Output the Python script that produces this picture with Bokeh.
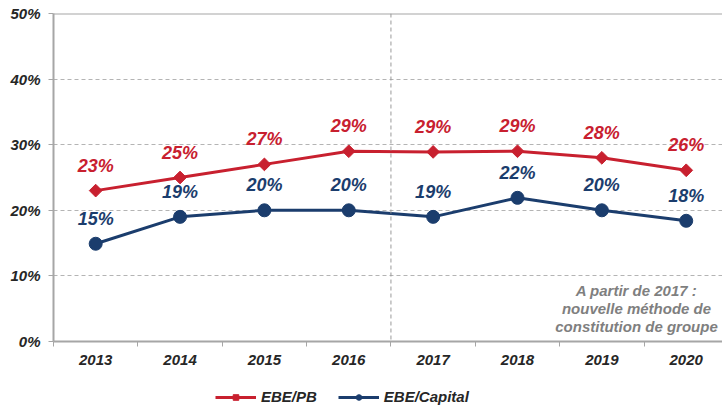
import math
from bokeh.plotting import figure
from bokeh.layouts import column
from bokeh.models import (Range1d, FixedTicker, Span, Label, Legend, LegendItem,
                          ColumnDataSource)
from bokeh.core.properties import value
from bokeh.embed import file_html
from bokeh.resources import INLINE

years = ["2013", "2014", "2015", "2016", "2017", "2018", "2019", "2020"]
ebe_pb = [23.0, 25.0, 27.0, 29.0, 28.9, 29.0, 28.0, 26.1]
ebe_cap = [14.9, 19.0, 20.0, 20.0, 19.0, 21.9, 20.0, 18.4]
pb_labels = ["23%", "25%", "27%", "29%", "29%", "29%", "28%", "26%"]
cap_labels = ["15%", "19%", "20%", "20%", "19%", "22%", "20%", "18%"]
y_ticks = [0, 10, 20, 30, 40, 50]
note_lines = ["A partir de 2017 :", "nouvelle méthode de", "constitution de groupe"]
series_names = ["EBE/PB", "EBE/Capital"]

RED = "#C8202F"
BLUE = "#1B3D6D"
GRAY = "#A6A6A6"
TXT = "#262626"
FONT = "Liberation Sans"

xs = list(range(len(years)))

p = figure(frame_width=669, frame_height=328, output_backend="svg", toolbar_location=None,
           x_range=Range1d(-0.5, 7.43), y_range=Range1d(0, 50),
           min_border_left=53, min_border_right=0, min_border_top=13,
           min_border_bottom=0)
p.outline_line_color = None
p.background_fill_color = "white"
p.border_fill_color = "white"

# x axis
p.xaxis.ticker = FixedTicker(ticks=xs, minor_ticks=[i - 0.5 for i in range(len(years) + 1)])
p.xaxis.major_label_overrides = {i: y for i, y in enumerate(years)}
p.xaxis.major_tick_out = 0
p.xaxis.major_tick_in = 0
p.xaxis.minor_tick_out = 5
p.xaxis.minor_tick_in = 0
p.xaxis.minor_tick_line_color = GRAY
p.xaxis.axis_line_color = GRAY
p.xaxis.axis_line_width = 2
p.xaxis.major_label_text_font = FONT
p.xaxis.major_label_text_font_style = "bold italic"
p.xaxis.major_label_text_font_size = "15px"
p.xaxis.major_label_text_color = TXT
p.xaxis.major_label_standoff = 8

# y axis
p.yaxis.ticker = FixedTicker(ticks=y_ticks)
p.yaxis.major_label_overrides = {t: f"{t}%" for t in y_ticks}
p.yaxis.major_tick_out = 5
p.yaxis.major_tick_in = 0
p.yaxis.minor_tick_line_color = None
p.yaxis.major_tick_line_color = GRAY
p.yaxis.axis_line_color = GRAY
p.yaxis.axis_line_width = 2
p.yaxis.major_label_text_font = FONT
p.yaxis.major_label_text_font_style = "bold italic"
p.yaxis.major_label_text_font_size = "15px"
p.yaxis.major_label_text_color = TXT
p.yaxis.major_label_standoff = 8

p.xgrid.grid_line_color = None
p.ygrid.ticker = FixedTicker(ticks=[10, 20, 30, 40])
p.ygrid.grid_line_color = "#B4B4B4"
p.ygrid.grid_line_dash = "4 3"
p.ygrid.grid_line_width = 1

top = Span(location=50, dimension="width", line_color=GRAY, line_width=2)
p.add_layout(top)
vline = Span(location=3.5, dimension="height", line_color="#999999",
             line_dash="4 3", line_width=1)
p.add_layout(vline)

src = ColumnDataSource(dict(x=xs, pb=ebe_pb, cap=ebe_cap, pbl=pb_labels, capl=cap_labels))

p.line("x", "pb", source=src, line_color=RED, line_width=3)
p.scatter("x", "pb", source=src, marker="square", size=9, angle=math.pi / 4, color=RED)
p.line("x", "cap", source=src, line_color=BLUE, line_width=3)
p.scatter("x", "cap", source=src, marker="circle", size=13, color=BLUE)

for col, c in (("pbl", RED), ("capl", BLUE)):
    yc = "pb" if col == "pbl" else "cap"
    p.text("x", yc, text=col, source=src, text_align="center", text_baseline="bottom",
           y_offset=-15, text_font=value(FONT), text_font_style="bold italic",
           text_font_size="18px", text_color=c)

for i, line in enumerate(note_lines):
    lab = Label(x=583, y=51 - i * 18, x_units="screen", y_units="screen", text=line,
                text_align="center", text_baseline="middle", text_font=FONT,
                text_font_style="bold italic", text_font_size="15px", text_color="#7F7F7F")
    p.add_layout(lab)

# legend strip (its data lie outside its visible range; only the legend shows)
lf = figure(width=722, height=38, output_backend="svg", toolbar_location=None,
            x_range=Range1d(100, 101), y_range=Range1d(100, 101),
            min_border=0)
lf.axis.visible = False
lf.grid.visible = False
lf.outline_line_color = None
r1 = lf.line("x", "pb", source=src, line_color=RED, line_width=3)
s1 = lf.scatter("x", "pb", source=src, marker="square", size=7, angle=math.pi / 4, color=RED)
r2 = lf.line("x", "cap", source=src, line_color=BLUE, line_width=3)
s2 = lf.scatter("x", "cap", source=src, marker="circle", size=10, color=BLUE)
legend = Legend(items=[LegendItem(label=series_names[0], renderers=[r1, s1]),
                       LegendItem(label=series_names[1], renderers=[r2, s2])],
                orientation="horizontal", location=(162, 0),
                glyph_width=41, glyph_height=14, label_standoff=5,
                label_text_font=FONT,
                label_text_font_style="bold italic", label_text_font_size="15px",
                label_text_color=TXT, border_line_color=None, spacing=21,
                padding=0, margin=0, background_fill_alpha=0)
lf.add_layout(legend)

layout = column(p, lf, spacing=0)
open("out.html", "w").write(file_html(layout, INLINE))
